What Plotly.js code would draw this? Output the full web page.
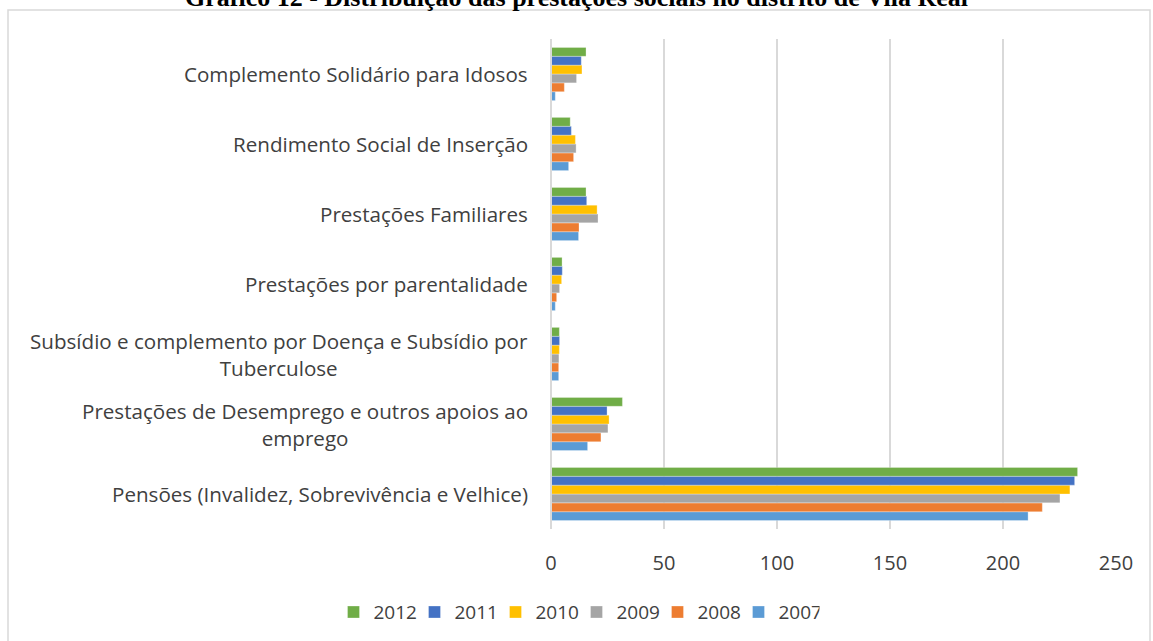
<!DOCTYPE html>
<html>
<head>
<meta charset="utf-8">
<script src="https://cdn.plot.ly/plotly-3.0.1.min.js"></script>
<style>html,body{margin:0;padding:0;background:#fff;}#chart{width:1153px;height:641px;}</style>
</head>
<body>
<div id="chart"></div>
<script>
// Categories listed bottom-to-top (as drawn)
const categories = [
  "Pensões (Invalidez, Sobrevivência e Velhice)",
  "Prestações de Desemprego e outros apoios ao<br>emprego",
  "Subsídio e complemento por Doença e Subsídio por<br>Tuberculose",
  "Prestações por parentalidade",
  "Prestações Familiares",
  "Rendimento Social de Inserção",
  "Complemento Solidário para Idosos"
];
const years = ["2007", "2008", "2009", "2010", "2011", "2012"];
const v2007 = [211.1, 16.2, 3.4, 1.9, 12.2, 7.8, 1.9];
const v2008 = [217.4, 22.1, 3.4, 2.5, 12.4, 10.0, 5.9];
const v2009 = [225.2, 25.2, 3.5, 3.8, 20.8, 11.1, 11.3];
const v2010 = [229.6, 25.7, 3.7, 4.7, 20.4, 10.8, 13.7];
const v2011 = [231.7, 24.8, 3.8, 5.0, 15.8, 9.0, 13.4];
const v2012 = [233.0, 31.6, 3.7, 4.9, 15.5, 8.5, 15.5];
const seriesValues = [v2007, v2008, v2009, v2010, v2011, v2012];
const colors = ["#5B9BD5", "#ED7D31", "#A5A5A5", "#FFC000", "#4472C4", "#70AD47"];
const xTicks = [0, 50, 100, 150, 200, 250];
const titleText = "Gráfico 12 - Distribuição das prestações sociais no distrito de Vila Real";

const FONT = "Open Sans, Noto Sans, sans-serif";
const TXT = "#404040";

// plot area in pixels (for paper-coordinate conversions)
const PL = 551, PR = 1116, PT = 39, PB = 529.5;
const px2x = p => (p - PL) / (PR - PL);
const px2y = p => (PB - p) / (PB - PT);

const traces = years.map((y, i) => ({
  type: "bar",
  orientation: "h",
  name: y,
  y: categories,
  x: seriesValues[i],
  marker: {color: colors[i], line: {color: "rgba(255,255,255,0.5)", width: 0.6}},
  hoverinfo: "x+name"
}));

// category labels as annotations (centre-aligned lines, right edge near axis)
const annotations = categories.map(c => ({
  xref: "paper", yref: "y", x: px2x(530), y: c,
  xanchor: "right", yanchor: "middle", align: "center",
  text: c, showarrow: false,
  font: {family: FONT, size: 20.6, color: TXT}
}));
annotations.push({
  xref: "paper", yref: "paper", x: px2x(576), y: px2y(-3),
  xanchor: "center", yanchor: "middle", showarrow: false,
  text: "<b>" + titleText + "</b>",
  font: {family: "Liberation Serif, Times New Roman, serif", size: 26, color: "#000"}
});

const layout = {
  width: 1153, height: 641,
  margin: {l: PL, r: 1153 - PR, t: PT, b: 641 - PB},
  paper_bgcolor: "#ffffff", plot_bgcolor: "#ffffff",
  barmode: "group", bargap: 0.24, bargroupgap: 0,
  xaxis: {range: [0, 250], tickvals: xTicks, ticktext: xTicks.map(String),
          showgrid: true, gridcolor: "#D9D9D9", gridwidth: 1.3, zeroline: false,
          showline: false, ticks: "", ticklen: 0, ticklabelstandoff: 20,
          tickfont: {family: FONT, size: 20, color: TXT}, fixedrange: true},
  yaxis: {type: "category", categoryorder: "array", categoryarray: categories,
          showticklabels: false, showgrid: false, zeroline: false,
          showline: false, ticks: "", fixedrange: true},
  shapes: [
    {type: "line", xref: "paper", yref: "paper", x0: 0, x1: 0, y0: 0, y1: 1,
     line: {color: "#D9D9D9", width: 2}},
    {type: "rect", xref: "paper", yref: "paper",
     x0: px2x(8), x1: px2x(1150), y0: px2y(660), y1: px2y(10),
     line: {color: "#D9D9D9", width: 1.5}, fillcolor: "rgba(0,0,0,0)", layer: "below"}
  ],
  annotations: annotations,
  showlegend: true,
  legend: {orientation: "h", traceorder: "reversed", x: 0.5, xref: "container", xanchor: "center",
           y: 0.045, yref: "container", yanchor: "middle",
           font: {family: FONT, size: 19, color: TXT}, itemwidth: 30,
           entrywidth: 36, entrywidthmode: "pixels",
           bgcolor: "rgba(0,0,0,0)"}
};

Plotly.newPlot("chart", traces, layout, {displayModeBar: false, staticPlot: true});
</script>
</body>
</html>
